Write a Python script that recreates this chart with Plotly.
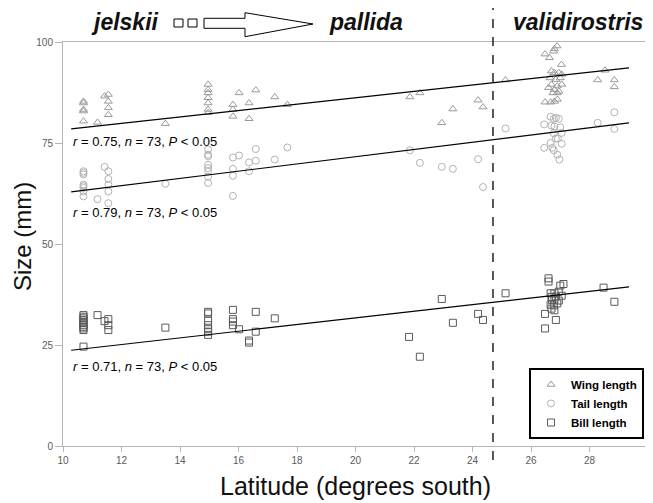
import plotly.graph_objects as go

# ---------------- data ----------------
wing_lat = [10.7, 10.7, 10.7, 10.7, 10.7, 11.18, 11.42, 11.55, 11.55, 11.55, 11.55, 13.5,
            14.96, 14.96, 14.96, 14.96, 14.96, 14.96, 14.96, 15.81, 15.81, 15.81, 16.02,
            16.36, 16.36, 16.59, 17.24, 17.67, 21.86, 22.2, 22.95, 23.33, 24.19, 24.36, 25.13,
            26.48, 26.63, 26.77, 26.89, 26.8, 27.04, 26.7, 26.8, 26.95, 27.05, 26.65, 26.85,
            27.0, 26.7, 26.9, 27.05, 26.6, 26.8, 26.95, 26.75, 26.9, 26.48, 26.67, 26.8, 26.9,
            28.28, 28.53, 28.85, 28.85]
wing_len = [85.3, 84.9, 83.3, 82.9, 80.4, 80.1, 86.6, 87.0, 85.3, 83.7, 82.0, 79.8,
            89.5, 88.2, 87.4, 86.2, 84.9, 83.3, 82.5, 84.5, 83.3, 81.6, 87.4,
            84.9, 81.0, 88.1, 86.4, 84.5, 86.4, 87.4, 80.0, 83.4, 85.6, 83.9, 90.6,
            97.0, 96.1, 97.7, 99.0, 98.3, 94.4, 92.8, 92.4, 92.4, 92.0, 91.1, 90.7,
            91.1, 89.5, 89.1, 89.5, 88.7, 88.2, 87.8, 87.4, 87.4, 85.1, 85.1, 85.3, 85.8,
            90.6, 93.0, 90.6, 88.9]

tail_lat = [10.7, 10.7, 10.7, 10.7, 10.7, 10.7, 10.7, 10.7, 11.18, 11.42, 11.55, 11.55, 11.55,
            11.55, 11.55, 13.5, 14.96, 14.96, 14.96, 14.96, 14.96, 14.96, 14.96, 14.96,
            15.81, 15.81, 15.81, 15.81, 16.02, 16.36, 16.36, 16.59, 16.59, 17.24, 17.67,
            21.86, 22.2, 22.95, 23.33, 24.19, 24.36, 25.13,
            26.45, 26.67, 26.78, 26.85, 26.95, 26.7, 26.8, 27.0, 27.05, 26.78, 26.92, 26.67,
            26.73, 26.45, 26.78, 27.05, 26.97, 26.9, 26.85, 28.28, 28.85, 28.85]
tail_len = [68.0, 67.6, 67.2, 64.7, 64.3, 63.9, 63.0, 61.8, 61.1, 69.1, 68.0, 66.1, 64.7,
            63.0, 60.1, 64.9, 73.4, 72.1, 71.7, 69.6, 68.8, 68.0, 66.7, 65.1,
            71.4, 68.6, 66.9, 61.9, 71.9, 70.2, 68.0, 73.5, 70.6, 70.9, 73.9,
            73.2, 70.1, 69.1, 68.6, 71.0, 64.1, 78.6,
            79.6, 81.5, 81.0, 81.2, 81.0, 79.3, 79.1, 78.9, 77.5, 77.4, 76.1, 75.0,
            73.8, 73.8, 73.2, 74.8, 70.9, 72.1, 76.1, 80.0, 82.6, 78.5]

bill_lat = [10.7, 10.7, 10.7, 10.7, 10.7, 10.7, 10.7, 10.7, 10.7, 10.7, 10.7, 11.18, 11.42,
            11.55, 11.55, 11.55, 13.5, 14.96, 14.96, 14.96, 14.96, 14.96, 14.96, 14.96,
            15.81, 15.81, 15.81, 15.81, 16.02, 16.36, 16.36, 16.59, 16.59, 17.24,
            21.83, 22.2, 22.95, 23.33, 24.19, 24.36, 25.13,
            26.6, 26.6, 27.11, 27.0, 26.67, 26.8, 26.95, 26.7, 26.85, 27.05, 26.72, 26.8,
            26.95, 26.67, 26.78, 26.9, 26.48, 26.7, 26.8, 26.85, 26.48, 28.48, 28.85]
bill_len = [32.4, 32.0, 31.6, 31.2, 30.8, 30.4, 29.9, 29.5, 29.1, 28.7, 24.6, 32.4, 30.9,
            31.4, 29.9, 28.7, 29.3, 33.2, 32.8, 31.0, 29.9, 28.9, 28.3, 27.5,
            33.7, 31.4, 30.8, 29.9, 28.9, 25.6, 26.1, 33.2, 28.3, 31.6,
            27.0, 22.1, 36.4, 30.5, 32.7, 31.2, 37.8,
            41.5, 40.7, 40.1, 39.7, 37.8, 37.8, 38.2, 36.9, 37.0, 37.2, 36.1, 36.1,
            36.0, 35.0, 34.8, 35.3, 32.7, 34.0, 33.6, 31.2, 29.1, 39.2, 35.7]

# trend lines (end points)
trend_lat = [10.28, 29.35]
wing_trend = [78.5, 93.6]
tail_trend = [62.9, 80.0]
bill_trend = [23.7, 39.4]

stats_text = ["<i>r</i> = 0.75, <i>n</i> = 73, <i>P</i> < 0.05",
              "<i>r</i> = 0.79, <i>n</i> = 73, <i>P</i> < 0.05",
              "<i>r</i> = 0.71, <i>n</i> = 73, <i>P</i> < 0.05"]
stats_y = [75.4, 57.7, 19.6]

boundary_lat = 24.7
x_ticks = [10, 12, 14, 16, 18, 20, 22, 24, 26, 28, 30]
y_ticks = [0, 25, 50, 75, 100]

# ---------------- layout geometry ----------------
# page body has an 8px margin, so the figure is placed at (8, 8) in the window
OFF = 8
WIN_W, WIN_H = 653, 503
W, H = WIN_W - OFF, WIN_H - OFF
# plot area in window pixels
L, R, T, B = 63, 648, 42, 446
PW, PH = R - L, B - T


def px(x):
    return (x - L) / PW


def py(y):
    return (B - y) / PH


FONT = "Liberation Sans, Arial, sans-serif"

fig = go.Figure()

fig.add_trace(go.Scatter(x=wing_lat, y=wing_len, mode="markers", name="<b>Wing length</b>",
                         legendgroup="a",
                         marker=dict(symbol="triangle-up-open", size=7, color="#9a9a9a",
                                     line=dict(width=1))))
fig.add_trace(go.Scatter(x=tail_lat, y=tail_len, mode="markers", name="<b>Tail length</b>",
                         legendgroup="b",
                         marker=dict(symbol="circle-open", size=7, color="#b3b3b3",
                                     line=dict(width=1))))
fig.add_trace(go.Scatter(x=bill_lat, y=bill_len, mode="markers", name="<b>Bill length</b>",
                         legendgroup="c",
                         marker=dict(symbol="square-open", size=7, color="#5a5a5a",
                                     line=dict(width=1))))

for tr in (wing_trend, tail_trend, bill_trend):
    fig.add_trace(go.Scatter(x=trend_lat, y=tr, mode="lines", showlegend=False,
                             line=dict(color="black", width=1.2), hoverinfo="skip"))

ann = []
for t, yv in zip(stats_text, stats_y):
    ann.append(dict(x=10.28, y=yv, xref="x", yref="y", text=t, showarrow=False,
                    xanchor="left", yanchor="middle",
                    font=dict(family=FONT, size=13, color="black")))

# top labels
for txt, xc in (("jelskii", 125), ("pallida", 366), ("validirostris", 577.5)):
    ann.append(dict(x=px(xc), y=py(22), xref="paper", yref="paper",
                    text="<b><i>" + txt + "</i></b>", showarrow=False,
                    xanchor="center", yanchor="middle",
                    font=dict(family=FONT, size=23, color="#111111")))

# axis titles
ann.append(dict(x=px(355.5), y=py(486), xref="paper", yref="paper",
                text="Latitude (degrees south)", showarrow=False,
                xanchor="center", yanchor="middle",
                font=dict(family=FONT, size=25, color="#111111")))
ann.append(dict(x=px(22), y=py(237), xref="paper", yref="paper",
                text="Size (mm)", showarrow=False, textangle=-90,
                xanchor="center", yanchor="middle",
                font=dict(family=FONT, size=24, color="#111111")))

shapes = []
# vertical dashed boundary
shapes.append(dict(type="line", xref="x", yref="paper", x0=boundary_lat, x1=boundary_lat,
                   y0=py(460), y1=py(8), line=dict(color="black", width=1.3, dash="dash")))
# two small boxes
for x0 in (174, 188):
    shapes.append(dict(type="rect", xref="paper", yref="paper",
                       x0=px(x0), x1=px(x0 + 9), y0=py(27), y1=py(19),
                       line=dict(color="black", width=1)))
# outlined arrow
pts = [(204, 18.3), (245, 18.3), (245, 12.7), (313, 24), (245, 36.7), (245, 28.3), (204, 28.3)]
path = "M " + " L ".join(f"{px(a):.5f},{py(b):.5f}" for a, b in pts) + " Z"
shapes.append(dict(type="path", xref="paper", yref="paper", path=path,
                   line=dict(color="black", width=1), fillcolor="white"))

fig.update_layout(
    width=W, height=H,
    margin=dict(l=L - OFF, r=(OFF + W) - R, t=T - OFF, b=(OFF + H) - B, pad=0),
    paper_bgcolor="white", plot_bgcolor="white",
    font=dict(family=FONT, color="#555555"),
    showlegend=True,
    legend=dict(x=px(644), y=py(439), xanchor="right", yanchor="bottom",
                bgcolor="white", bordercolor="black", borderwidth=2,
                font=dict(family=FONT, size=11.5, color="black"),
                tracegroupgap=6, itemwidth=30,
                traceorder="normal"),
    annotations=ann,
    shapes=shapes,
)
fig.update_xaxes(range=[10, 30], tickvals=x_ticks, showgrid=False, zeroline=False,
                 showline=True, mirror=True, linecolor="#b5b5b5", linewidth=1,
                 ticks="outside", ticklen=5, tickcolor="#b5b5b5",
                 tickfont=dict(family=FONT, size=10, color="#5a5a5a"))
fig.update_yaxes(range=[0, 100], tickvals=y_ticks, showgrid=False, zeroline=False,
                 showline=True, mirror=True, linecolor="#b5b5b5", linewidth=1,
                 ticks="outside", ticklen=7, tickcolor="#b5b5b5",
                 tickfont=dict(family=FONT, size=10, color="#5a5a5a"))

fig.write_html("out.html")
